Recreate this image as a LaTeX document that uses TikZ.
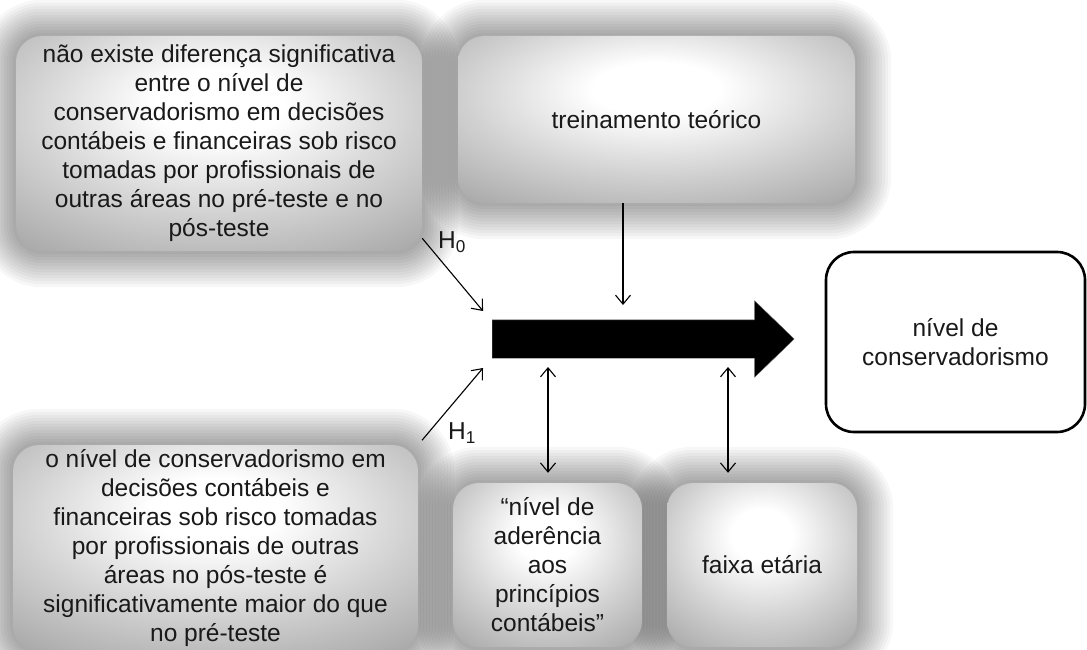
\documentclass[tikz,border=0pt]{standalone}
\usepackage{fontspec}
\setmainfont{Liberation Sans}
\usetikzlibrary{arrows.meta,shapes.arrows,backgrounds}
\pgfdeclareradialshading{glossy}{\pgfpoint{0bp}{10bp}}{color(0bp)=(white); color(8bp)=(white); color(24bp)=(black!18); color(38bp)=(black!33); color(50bp)=(black!45); color(62bp)=(black!52); color(90bp)=(black!58)}
\begin{document}
\begin{tikzpicture}[x=1pt,y=-1pt,>={Straight Barb[length=9pt,width=15pt]},
    every node/.style={font=\fontsize{24.5}{29}\selectfont,text=black!90},
    hypbox/.style={shading=glossy,rounded corners=26pt,align=center,inner sep=0pt},
    resultbox/.style={draw=black,line width=2.6pt,rounded corners=28pt,align=center,
      minimum width=259pt,minimum height=180pt},
    flowarrow/.style={single arrow,fill=black,draw=black!60,inner xsep=0pt,inner ysep=19pt,
      text height=0pt,text depth=0pt,minimum height=302pt,minimum width=76pt,
      single arrow head extend=19pt,single arrow tip angle=88},
    link/.style={line width=1.1pt}]
  \useasboundingbox (0,0) rectangle (1087,650);
  \node[hypbox,minimum width=406pt,minimum height=215pt] (nullbox) at (219,143.5)
    {não existe diferença significativa\\entre o nível de\\conservadorismo em decisões\\contábeis e financeiras sob risco\\tomadas por profissionais de\\outras áreas no pré-teste e no\\pós-teste};
  \node[hypbox,minimum width=397pt,minimum height=167pt] (trainbox) at (656.5,119.5) {treinamento teórico};
  \node[hypbox,minimum width=405pt,minimum height=206pt] (altbox) at (215.5,548)
    {o nível de conservadorismo em\\decisões contábeis e\\financeiras sob risco tomadas\\por profissionais de outras\\áreas no pós-teste é\\significativamente maior do que\\no pré-teste};
  \node[hypbox,minimum width=189pt,minimum height=164pt] (adhbox) at (547.5,565)
    {“nível de\\aderência\\aos\\princípios\\contábeis”};
  \node[hypbox,minimum width=190pt,minimum height=164pt] (agebox) at (762,565) {faixa etária};
  \node[resultbox] (levelbox) at (955.5,342) {nível de\\conservadorismo};
  \node[flowarrow,anchor=tail] (flow) at (492,339) {};
  \begin{scope}[on background layer]
    \fill[white] (0,0) rectangle (1087,650);
    \foreach \b in {nullbox,trainbox,altbox,adhbox,agebox}
      \foreach \k in {1,...,12}
        \fill[black,opacity=0.03,rounded corners=26pt+3*\k pt]
          ([xshift=-3*\k pt,yshift=3*\k pt]\b.north west) rectangle ([xshift=3*\k pt,yshift=-3*\k pt]\b.south east);
  \end{scope}
  \coordinate (inzero) at (483,311);
  \coordinate (inone) at (483,368);
  \coordinate (intrain) at (623,305);
  \coordinate (outadh) at (548,367);
  \coordinate (outage) at (728,367);
  \draw[link,->] (nullbox.-25) -- (inzero);
  \draw[link,->,shorten <=6pt] (altbox.north east) -- (inone);
  \draw[link,->] (trainbox.south -| intrain) -- (intrain);
  \draw[link,<->,shorten >=10pt] (outadh) -- (adhbox.north -| outadh);
  \draw[link,<->,shorten >=10pt] (outage) -- (agebox.north -| outage);
  \node (lblzero) at (452,242) {H\textsubscript{0}};
  \node (lblone) at (462,433) {H\textsubscript{1}};
\end{tikzpicture}
\end{document}
